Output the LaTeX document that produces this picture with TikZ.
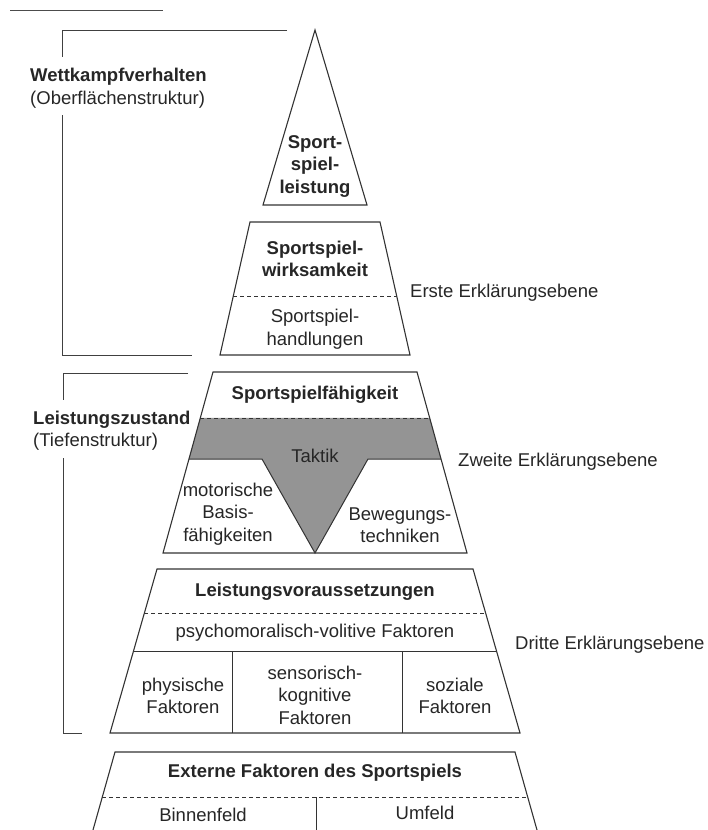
\documentclass[tikz,border=0pt]{standalone}
\usepackage{fontspec}
\setmainfont{Liberation Sans}
\usetikzlibrary{calc}
\begin{document}
\begin{tikzpicture}[x=1pt,y=-1pt,
  every node/.style={font=\fontsize{18.5}{22.5}\selectfont, text=black!85, inner sep=0pt},
  boxline/.style={draw=black!80, line width=1.1pt, line join=miter},
  sepdash/.style={draw=black!80, line width=0.9pt, dash pattern=on 4pt off 3pt},
  sepline/.style={draw=black!80, line width=1pt},
  bracket/.style={draw=black!75, line width=1pt},
  title/.style={font=\fontsize{18.5}{22.5}\selectfont\bfseries, align=center},
  plain/.style={align=center},
  sidelabel/.style={anchor=west, align=left},
  shade/.style={fill=black!42}]
\useasboundingbox (0,0) rectangle (708,830);

% stray rule at the top edge
\draw[black!70, line width=1pt] (10,10) -- (163,10);

% ---------- level 1: triangle ----------
\coordinate (apex) at (315,30);
\coordinate (t1l) at (263,205);
\coordinate (t1r) at (367,205);
\draw[boxline] (apex) -- (t1r) -- (t1l) -- cycle;
\node[title] (leistung) at (315,166) {Sport-\\spiel-\\leistung};

% ---------- level 2 ----------
\coordinate (a-tl) at (250,222);
\coordinate (a-tr) at (380,222);
\coordinate (a-bl) at (220,355);
\coordinate (a-br) at (410,355);
\draw[boxline] (a-tl) -- (a-tr) -- (a-br) -- (a-bl) -- cycle;
\draw[sepdash] ($(a-tl)!0.556!(a-bl)$) -- ($(a-tr)!0.556!(a-br)$);
\node[title] (wirk) at (315,259) {Sportspiel-\\wirksamkeit};
\node[plain] (handl) at (315,329) {Sportspiel-\\handlungen};

% ---------- level 3 ----------
\coordinate (b-tl) at (213,372);
\coordinate (b-tr) at (417,372);
\coordinate (b-bl) at (163,553);
\coordinate (b-br) at (467,553);
\coordinate (b-dl) at ($(b-tl)!0.254!(b-bl)$);
\coordinate (b-dr) at ($(b-tr)!0.254!(b-br)$);
\coordinate (b-sl) at ($(b-tl)!0.481!(b-bl)$);
\coordinate (b-sr) at ($(b-tr)!0.481!(b-br)$);
\coordinate (v-l) at (262,459);
\coordinate (v-r) at (368,459);
\coordinate (v-tip) at (315,553);
\path[shade] (b-dl) -- (b-dr) -- (b-sr) -- (v-r) -- (v-tip) -- (v-l) -- (b-sl) -- cycle;
\draw[sepline] (b-sl) -- (v-l) -- (v-tip) -- (v-r) -- (b-sr);
\draw[sepdash] (b-dl) -- (b-dr);
\draw[boxline] (b-tl) -- (b-tr) -- (b-br) -- (b-bl) -- cycle;
\node[title] (faehig) at (315,395) {Sportspielfähigkeit};
\node[plain] (taktik) at (315,456) {Taktik};
\node[plain] (motor) at (228,514) {motorische\\Basis-\\fähigkeiten};
\node[plain] (beweg) at (400,525) {Bewegungs-\\techniken};

% ---------- level 4 ----------
\coordinate (c-tl) at (157,569);
\coordinate (c-tr) at (473,569);
\coordinate (c-bl) at (110,733);
\coordinate (c-br) at (520,733);
\coordinate (c-sl) at ($(c-tl)!0.506!(c-bl)$);
\coordinate (c-sr) at ($(c-tr)!0.506!(c-br)$);
\draw[boxline] (c-tl) -- (c-tr) -- (c-br) -- (c-bl) -- cycle;
\draw[sepdash] ($(c-tl)!0.268!(c-bl)$) -- ($(c-tr)!0.268!(c-br)$);
\draw[sepline] (c-sl) -- (c-sr);
\draw[sepline] (232,652) -- (232,733);
\draw[sepline] (402,652) -- (402,733);
\node[title] (vorauss) at (315,592) {Leistungsvoraussetzungen};
\node[plain] (psycho) at (315,633) {psychomoralisch-volitive Faktoren};
\node[plain] (phys) at (183,696) {physische\\Faktoren};
\node[plain] (senso) at (315,695) {sensorisch-\\kognitive\\Faktoren};
\node[plain] (sozial) at (455,696) {soziale\\Faktoren};

% ---------- level 5 (runs past the lower edge) ----------
\coordinate (d-tl) at (115,752);
\coordinate (d-tr) at (515,752);
\coordinate (d-bl) at (93,830);
\coordinate (d-br) at (537,830);
\draw[boxline] (d-bl) -- (d-tl) -- (d-tr) -- (d-br);
\draw[sepdash] ($(d-tl)!0.577!(d-bl)$) -- ($(d-tr)!0.577!(d-br)$);
\draw[sepline] (316,797) -- (316,830);
\node[title] (extern) at (315,773) {Externe Faktoren des Sportspiels};
\node[plain] (binnen) at (203,815) {Binnenfeld};
\node[plain] (umfeld) at (425,813) {Umfeld};

% ---------- side labels ----------
\node[sidelabel] (erste) at (410,293) {Erste Erklärungsebene};
\node[sidelabel] (zweite) at (458,462) {Zweite Erklärungsebene};
\node[sidelabel] (dritte) at (515,645) {Dritte Erklärungsebene};

\node[sidelabel, font=\fontsize{18.5}{22.5}\selectfont\bfseries] (wettk) at (30,77) {Wettkampfverhalten};
\node[sidelabel] (oberfl) at (30,100) {(Oberflächenstruktur)};
\node[sidelabel, font=\fontsize{18.5}{22.5}\selectfont\bfseries] (lzust) at (33,420) {Leistungszustand};
\node[sidelabel] (tiefen) at (33,442) {(Tiefenstruktur)};

% ---------- brackets ----------
\draw[bracket] (287,30) -- (62,30) -- (62,57);
\draw[bracket] (62,115) -- (62,355) -- (192,355);
\draw[bracket] (188,373) -- (63,373) -- (63,400);
\draw[bracket] (63,458) -- (63,733) -- (82,733);
\end{tikzpicture}
\end{document}
